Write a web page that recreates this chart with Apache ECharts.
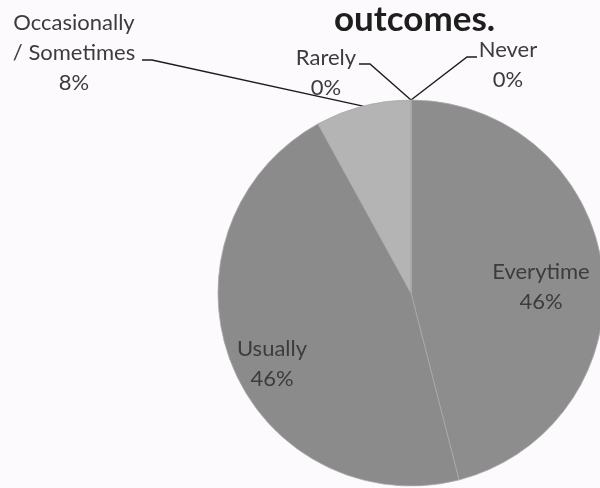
<!DOCTYPE html>
<html>
<head>
<meta charset="utf-8">
<script src="https://cdn.jsdelivr.net/npm/echarts@6/dist/echarts.min.js"></script>
<style>
  html, body { margin: 0; padding: 0; background: #fcfafc; }
  #chart { width: 600px; height: 488px; }
</style>
</head>
<body>
<div id="chart"></div>
<script>
const titleText = 'outcomes.';
const categories = ['Everytime', 'Usually', 'Occasionally / Sometimes', 'Rarely', 'Never'];
const percentValues = [46, 46, 8, 0, 0];
const sliceColors = ['#8d8d8d', '#8b8b8b', '#b4b4b4', '#a0a0a0', '#a0a0a0'];

// label placement (style only)
const labelPos = [
  { x: 541, y: 287 },
  { x: 272, y: 364 },
  { x: 74, y: 53, line: [[152, 60], [142, 60]] },
  { x: 326, y: 73, line: [[370, 64], [359, 64]] },
  { x: 508, y: 65, line: [[467, 57], [477, 57]] }
];

const chart = echarts.init(document.getElementById('chart'), null, { renderer: 'canvas' });

const data = categories.map((c, i) => ({
  name: c,
  value: percentValues[i],
  itemStyle: { color: sliceColors[i] },
  labelLine: { show: i >= 2 }
}));

chart.setOption({
  backgroundColor: '#fcfafc',
  animation: false,
  title: {
    text: titleText,
    left: 329,
    top: -3,
    textStyle: { fontFamily: 'Lato', fontWeight: 'bold', fontSize: 35, color: '#1e1e1e' }
  },
  series: [{
    type: 'pie',
    center: [411, 293],
    radius: [0, 193],
    startAngle: 90,
    clockwise: true,
    avoidLabelOverlap: false,
    percentPrecision: 0,
    itemStyle: { borderColor: '#a9a9a9', borderWidth: 0.8 },
    label: {
      show: true,
      position: 'outside',
      fontFamily: 'Lato',
      fontSize: 22,
      lineHeight: 30,
      color: '#3c3c3c',
      align: 'center',
      formatter: p => p.name.replace(' / ', '\n/ ') + '\n' + p.percent + '%'
    },
    labelLine: { show: true, lineStyle: { color: '#1c1c1c', width: 1.4 } },
    labelLayout: function (params) {
      const pos = labelPos[params.dataIndex];
      const res = { x: pos.x, y: pos.y, align: 'center', verticalAlign: 'middle' };
      if (pos.line && params.labelLinePoints) {
        res.labelLinePoints = [params.labelLinePoints[0], pos.line[0], pos.line[1]];
      }
      return res;
    },
    data: data
  }]
});
</script>
</body>
</html>
